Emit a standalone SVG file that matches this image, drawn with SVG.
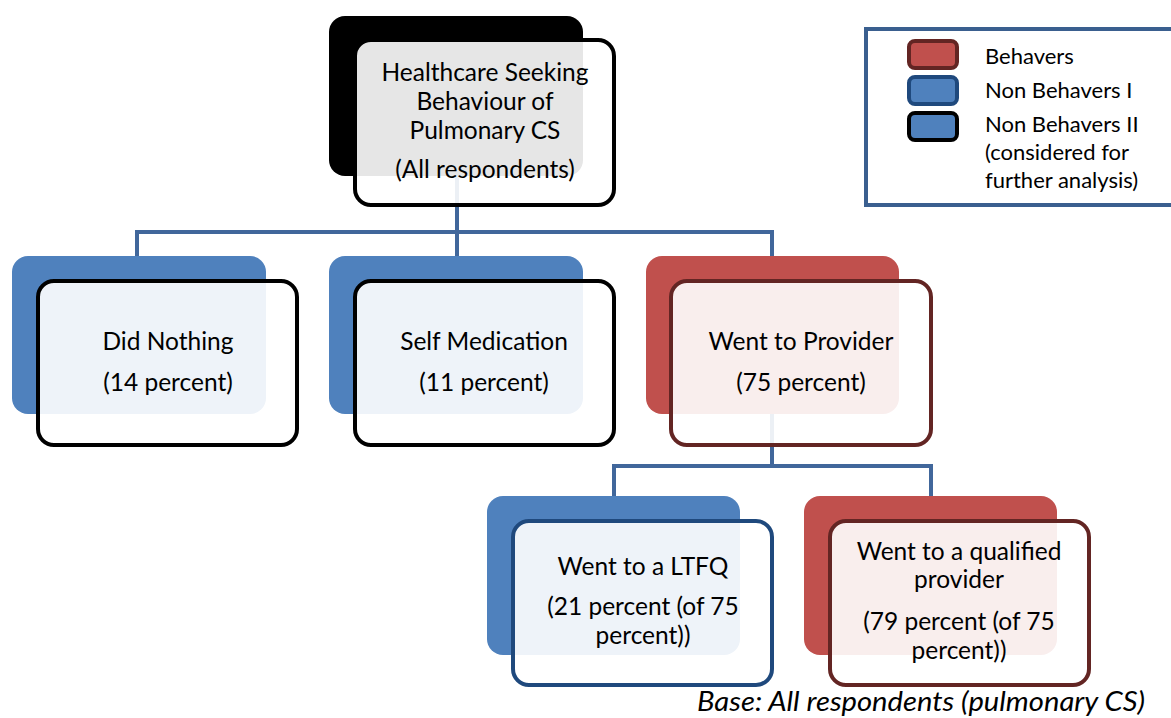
<svg xmlns="http://www.w3.org/2000/svg" width="1171" height="718" viewBox="0 0 1171 718">
<style>
text{font-family:Lato,"Liberation Sans",sans-serif;fill:#000}
.t{font-size:24.5px;text-anchor:middle}
.lg{font-size:22px}
.back{stroke:none}
.bl{fill:#4f81bd}
.rd{fill:#c0504d}
.bk{fill:#000}
.front{fill:#fff;fill-opacity:0.9;stroke-width:4}
.sb{stroke:#000}
.sr{stroke:#632523}
.su{stroke:#1f497d}
.con{fill:none;stroke:#41679b;stroke-width:4}
</style>
<rect width="1171" height="718" fill="#fff"/>
<g id="connectors">
<path class="con" d="M457 176V232M137 256V232H772V256M457 232V256"/>
<path class="con" d="M772 414V466M614 496V466H931V496"/>
</g>
<g id="n-top">
<rect class="back bk" x="329" y="16" width="254" height="160" rx="16"/>
<rect class="front sb" x="355" y="40" width="259" height="165" rx="16"/>
<text class="t" x="485" y="81">Healthcare Seeking</text>
<text class="t" x="485" y="110">Behaviour of</text>
<text class="t" x="485" y="139">Pulmonary CS</text>
<text class="t" x="485" y="178">(All respondents)</text>
</g>
<g id="n-nothing">
<rect class="back bl" x="12" y="256" width="254" height="158" rx="16"/>
<rect class="front sb" x="38" y="281" width="259" height="164" rx="16"/>
<text class="t" x="168" y="350">Did Nothing</text>
<text class="t" x="168" y="391">(14 percent)</text>
</g>
<g id="n-self">
<rect class="back bl" x="329" y="256" width="254" height="158" rx="16"/>
<rect class="front sb" x="355" y="281" width="259" height="164" rx="16"/>
<text class="t" x="484" y="350">Self Medication</text>
<text class="t" x="484" y="391">(11 percent)</text>
</g>
<g id="n-provider">
<rect class="back rd" x="646" y="256" width="253" height="158" rx="16"/>
<rect class="front sr" x="671" y="281" width="260" height="164" rx="16"/>
<text class="t" x="801" y="350">Went to Provider</text>
<text class="t" x="801" y="391">(75 percent)</text>
</g>
<g id="n-ltfq">
<rect class="back bl" x="487" y="496" width="253" height="159" rx="16"/>
<rect class="front su" x="513" y="521" width="259" height="164" rx="16"/>
<text class="t" x="643" y="575">Went to a LTFQ</text>
<text class="t" x="643" y="615">(21 percent (of 75</text>
<text class="t" x="643" y="644">percent))</text>
</g>
<g id="n-qualified">
<rect class="back rd" x="804" y="496" width="253" height="159" rx="16"/>
<rect class="front sr" x="830" y="521" width="259" height="164" rx="16"/>
<text class="t" x="959" y="560">Went to a qualified</text>
<text class="t" x="959" y="588">provider</text>
<text class="t" x="959" y="630">(79 percent (of 75</text>
<text class="t" x="959" y="659">percent))</text>
</g>
<g id="legend">
<rect x="866" y="29" width="310" height="176" fill="#fff" stroke="#3a5f8f" stroke-width="4"/>
<rect x="909" y="41" width="48" height="27" rx="6" fill="#c0504d" stroke="#632523" stroke-width="4"/>
<rect x="909" y="77" width="48" height="27" rx="6" fill="#4f81bd" stroke="#1f497d" stroke-width="4"/>
<rect x="909" y="113" width="48" height="27" rx="6" fill="#4f81bd" stroke="#000" stroke-width="4"/>
<text class="lg" x="985" y="64">Behavers</text>
<text class="lg" x="985" y="98">Non Behavers I</text>
<text class="lg" x="985" y="132">Non Behavers II</text>
<text class="lg" x="985" y="160">(considered for</text>
<text class="lg" x="985" y="188">further analysis)</text>
</g>
<text x="697" y="711" font-size="27" font-style="italic" textLength="448" lengthAdjust="spacingAndGlyphs">Base: All respondents (pulmonary CS)</text>
</svg>
